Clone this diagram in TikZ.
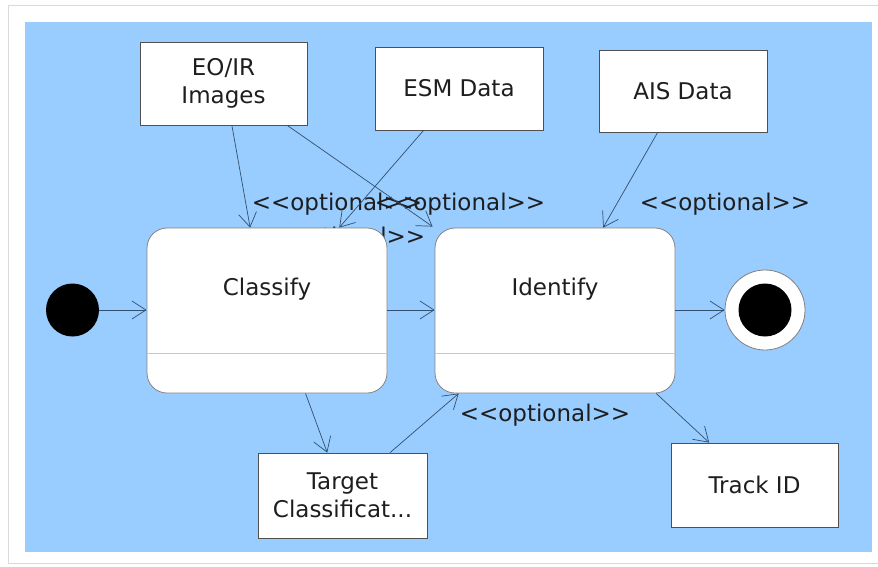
\documentclass[tikz,border=0pt]{standalone}
\usepackage{fontspec}
\setmainfont{DejaVu Sans}
\usetikzlibrary{arrows.meta,calc}
\definecolor{bgblue}{RGB}{153,204,255}
\definecolor{linecol}{RGB}{50,80,110}
\definecolor{boxline}{RGB}{80,80,80}
\definecolor{txt}{RGB}{30,30,30}
\definecolor{divcol}{RGB}{200,200,200}
\newcommand{\optxt}{{<}{<}optional{>}{>}}
\begin{document}
\begin{tikzpicture}[x=1pt,y=-1pt,
  every node/.style={text=txt,font=\fontsize{23}{28}\selectfont,inner sep=0pt},
  databox/.style={draw=boxline,fill=white,line width=0.8pt,align=center},
  statebox/.style={draw=boxline!70,fill=white,line width=0.8pt,rounded corners=20pt,minimum width=240pt,minimum height=165pt},
  flow/.style={draw=linecol,line width=0.7pt,-{Straight Barb[length=14pt,width=18pt,line width=0.7pt]}},
  optlabel/.style={text=txt}]
\useasboundingbox (0,0) rectangle (878,566);
\fill[white] (0,0) rectangle (878,566);
\draw[gray!30,line width=0.8pt] (8,5) -- (8,563) -- (878,563);
\draw[gray!30,line width=0.8pt] (8,5) -- (878,5);
\fill[bgblue] (25,22) rectangle (872,552);

% label hidden behind Classify
\node[optlabel] (lblesm) at (340,238) {\optxt};

% data boxes
\node[databox,minimum width=167pt,minimum height=83pt] (eoir) at (223.5,83.5) {EO/IR\\Images};
\node[databox,minimum width=168pt,minimum height=83pt] (esm) at (459,88.5) {ESM Data};
\node[databox,minimum width=168pt,minimum height=82pt] (ais) at (683,91) {AIS Data};
\node[databox,minimum width=169pt,minimum height=85pt] (target) at (342.5,495.5) {Target\\Classificat...};
\node[databox,minimum width=167pt,minimum height=84pt] (trackid) at (754.5,485) {Track ID};

% state boxes
\node[statebox] (classify) at (267,310.5) {};
\node at ($(classify.center)+(0,-21)$) (classifytxt) {Classify};
\draw[divcol,line width=1pt] (classify.west |- 0,353) -- (classify.east |- 0,353);
\node[statebox] (identify) at (555,310.5) {};
\node at ($(identify.center)+(0,-21)$) (identifytxt) {Identify};
\draw[divcol,line width=1pt] (identify.west |- 0,353) -- (identify.east |- 0,353);

% initial / final
\node[circle,fill=black,minimum size=53pt] (init) at (72.5,310) {};
\node[circle,draw=gray,fill=white,line width=0.8pt,minimum size=80pt] (final) at (765,310) {};
\node[circle,fill=black,minimum size=53pt] (finalin) at (765,310) {};

% labels
\node[optlabel] (lbl1) at (337,204) {\optxt};
\node[optlabel] (lbl2) at (460,204) {\optxt};
\node[optlabel] (lbl3) at (725,204) {\optxt};
\node[optlabel] (lbl4) at (545,415) {\optxt};

\coordinate (idcorner) at ($(identify.north west)+(-2,-1)$);

% flows
\draw[flow] (init) -- (classify.west |- init);
\draw[flow] (classify.east |- init) -- (identify.west |- init);
\draw[flow] (identify.east |- final) -- (final.west);
\draw[flow] ($(eoir.south west)!0.55!(eoir.south east)$) -- ($(classify.north west)!0.43!(classify.north east)$);
\draw[flow] ($(eoir.south west)!0.88!(eoir.south east)$) -- (idcorner);
\draw[flow] ($(esm.south west)!0.29!(esm.south east)$) -- ($(classify.north west)!0.80!(classify.north east)$);
\draw[flow] ($(ais.south west)!0.35!(ais.south east)$) -- ($(identify.north west)!0.70!(identify.north east)$);
\draw[flow] ($(classify.south west)!0.66!(classify.south east)$) -- ($(target.north west)!0.41!(target.north east)$);
\draw[flow] ($(target.north west)!0.78!(target.north east)$) -- ($(identify.south west)!0.10!(identify.south east)$);
\draw[flow] ($(identify.south west)!0.92!(identify.south east)$) -- ($(trackid.north west)!0.23!(trackid.north east)$);
\end{tikzpicture}
\end{document}
